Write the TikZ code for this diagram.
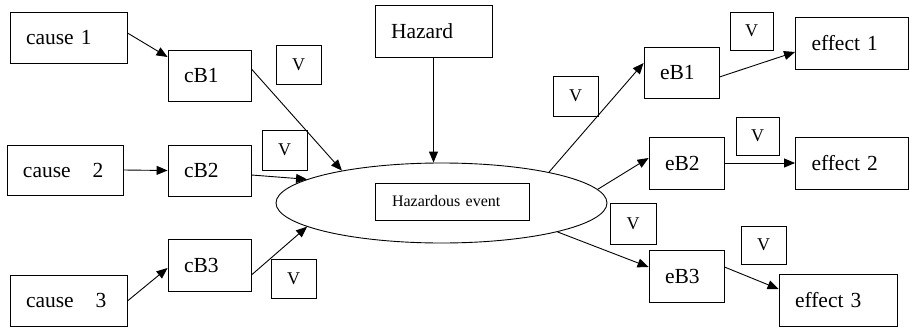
\documentclass[tikz,border=0pt]{standalone}
\usepackage{fontspec}
\setmainfont{Liberation Serif}
\usetikzlibrary{shapes.geometric,arrows.meta,calc}
\begin{document}
\begin{tikzpicture}[x=1pt,y=-1pt,line width=0.9pt,
  bx/.style={draw, align=left, inner xsep=16pt, inner ysep=0pt, font=\fontsize{21.5}{24}\selectfont},
  vbx/.style={draw, inner sep=0pt, minimum width=45pt, minimum height=39pt, font=\fontsize{18}{20}\selectfont},
  arr/.style={-{Triangle[length=11pt,width=9pt]}}]
\useasboundingbox (0,0) rectangle (910,329);

% left side
\node[bx, text width=85pt, minimum height=51pt] (c1) at (68.5,37.5) {cause 1};
\node[bx, text width=84pt, minimum height=50pt] (c2) at (65,170) {cause\hspace{22pt}2};
\node[bx, text width=85pt, minimum height=51pt] (c3) at (68.5,300.5) {cause\hspace{22pt}3};
\node[bx, text width=51pt, minimum height=51pt] (cb1) at (209.5,75.5) {cB1};
\node[bx, text width=51pt, minimum height=51pt] (cb2) at (209.5,170.5) {cB2};
\node[bx, text width=51pt, minimum height=52pt] (cb3) at (209.5,265.5) {cB3};
\node[vbx] (v1) at (298.5,65) {V};
\node[vbx, minimum height=40pt] (v2) at (284.5,150) {V};
\node[vbx] (v3) at (293.5,278.5) {V};

% centre
\node[bx, text width=85pt, minimum height=52pt] (hz) at (433.5,31) {Hazard};
\node[draw, ellipse, inner sep=0pt, minimum width=331pt, minimum height=80pt] (ell) at (441.5,203) {};
\node[bx, text width=120pt, inner xsep=17pt, minimum height=37pt, font=\fontsize{16}{18}\selectfont] (he) at (452,201.5) {Hazardous event};

% right side
\node[bx, text width=43pt, minimum height=51pt] (eb1) at (681.5,72.5) {eB1};
\node[bx, text width=43pt, minimum height=52pt] (eb2) at (686.5,163) {eB2};
\node[bx, text width=43pt, minimum height=52pt] (eb3) at (686.5,276) {eB3};
\node[bx, text width=81pt, minimum height=52pt] (e1) at (852,43) {effect 1};
\node[bx, text width=81pt, minimum height=52pt] (e2) at (852,163) {effect 2};
\node[bx, text width=86pt, minimum height=52pt] (e3) at (838,300) {effect 3};
\node[vbx, minimum height=40pt] (v4) at (575.5,96) {V};
\node[vbx, minimum width=43pt, minimum height=38pt] (v5) at (751.5,31) {V};
\node[vbx, minimum width=43pt, minimum height=38pt] (v6) at (757.5,136) {V};
\node[vbx, minimum width=46pt, minimum height=41pt] (v7) at (633,223.5) {V};
\node[vbx, minimum height=38pt] (v8) at (763.5,245) {V};

% connectors left
\draw[arr] ($(c1.east)+(0,-4.5)$) -- ($(cb1.west)+(0,-18.5)$);
\draw[arr] (c2.east) -- (cb2.west);
\draw[arr] ($(c3.east)+(0,0.5)$) -- ($(cb3.west)+(0,2.5)$);
\draw[arr] ($(cb1.east)+(0,-6.5)$) -- (ell.162);
\draw[arr] ($(cb2.east)+(0,4.5)$) -- (ell.170);
\draw[arr] ($(cb3.east)+(0,9.5)$) -- (ell.190);
\draw[arr] (hz.south) -- (hz.south |- ell.north);

% connectors right
\draw[arr] (ell.16) -- ($(eb1.west)+(0,-9.5)$);
\draw[arr] (ell.5) -- ($(eb2.west)+(0,-5)$);
\draw[arr] (ell.346) -- ($(eb3.west)+(0,-9)$);
\draw[arr] ($(eb1.east)+(0,4.5)$) -- ($(e1.west)+(0,9)$);
\draw[arr] (eb2.east) -- (e2.west);
\draw[arr] ($(eb3.east)+(0,-9)$) -- ($(e3.west)+(0,-11)$);
\end{tikzpicture}
\end{document}
